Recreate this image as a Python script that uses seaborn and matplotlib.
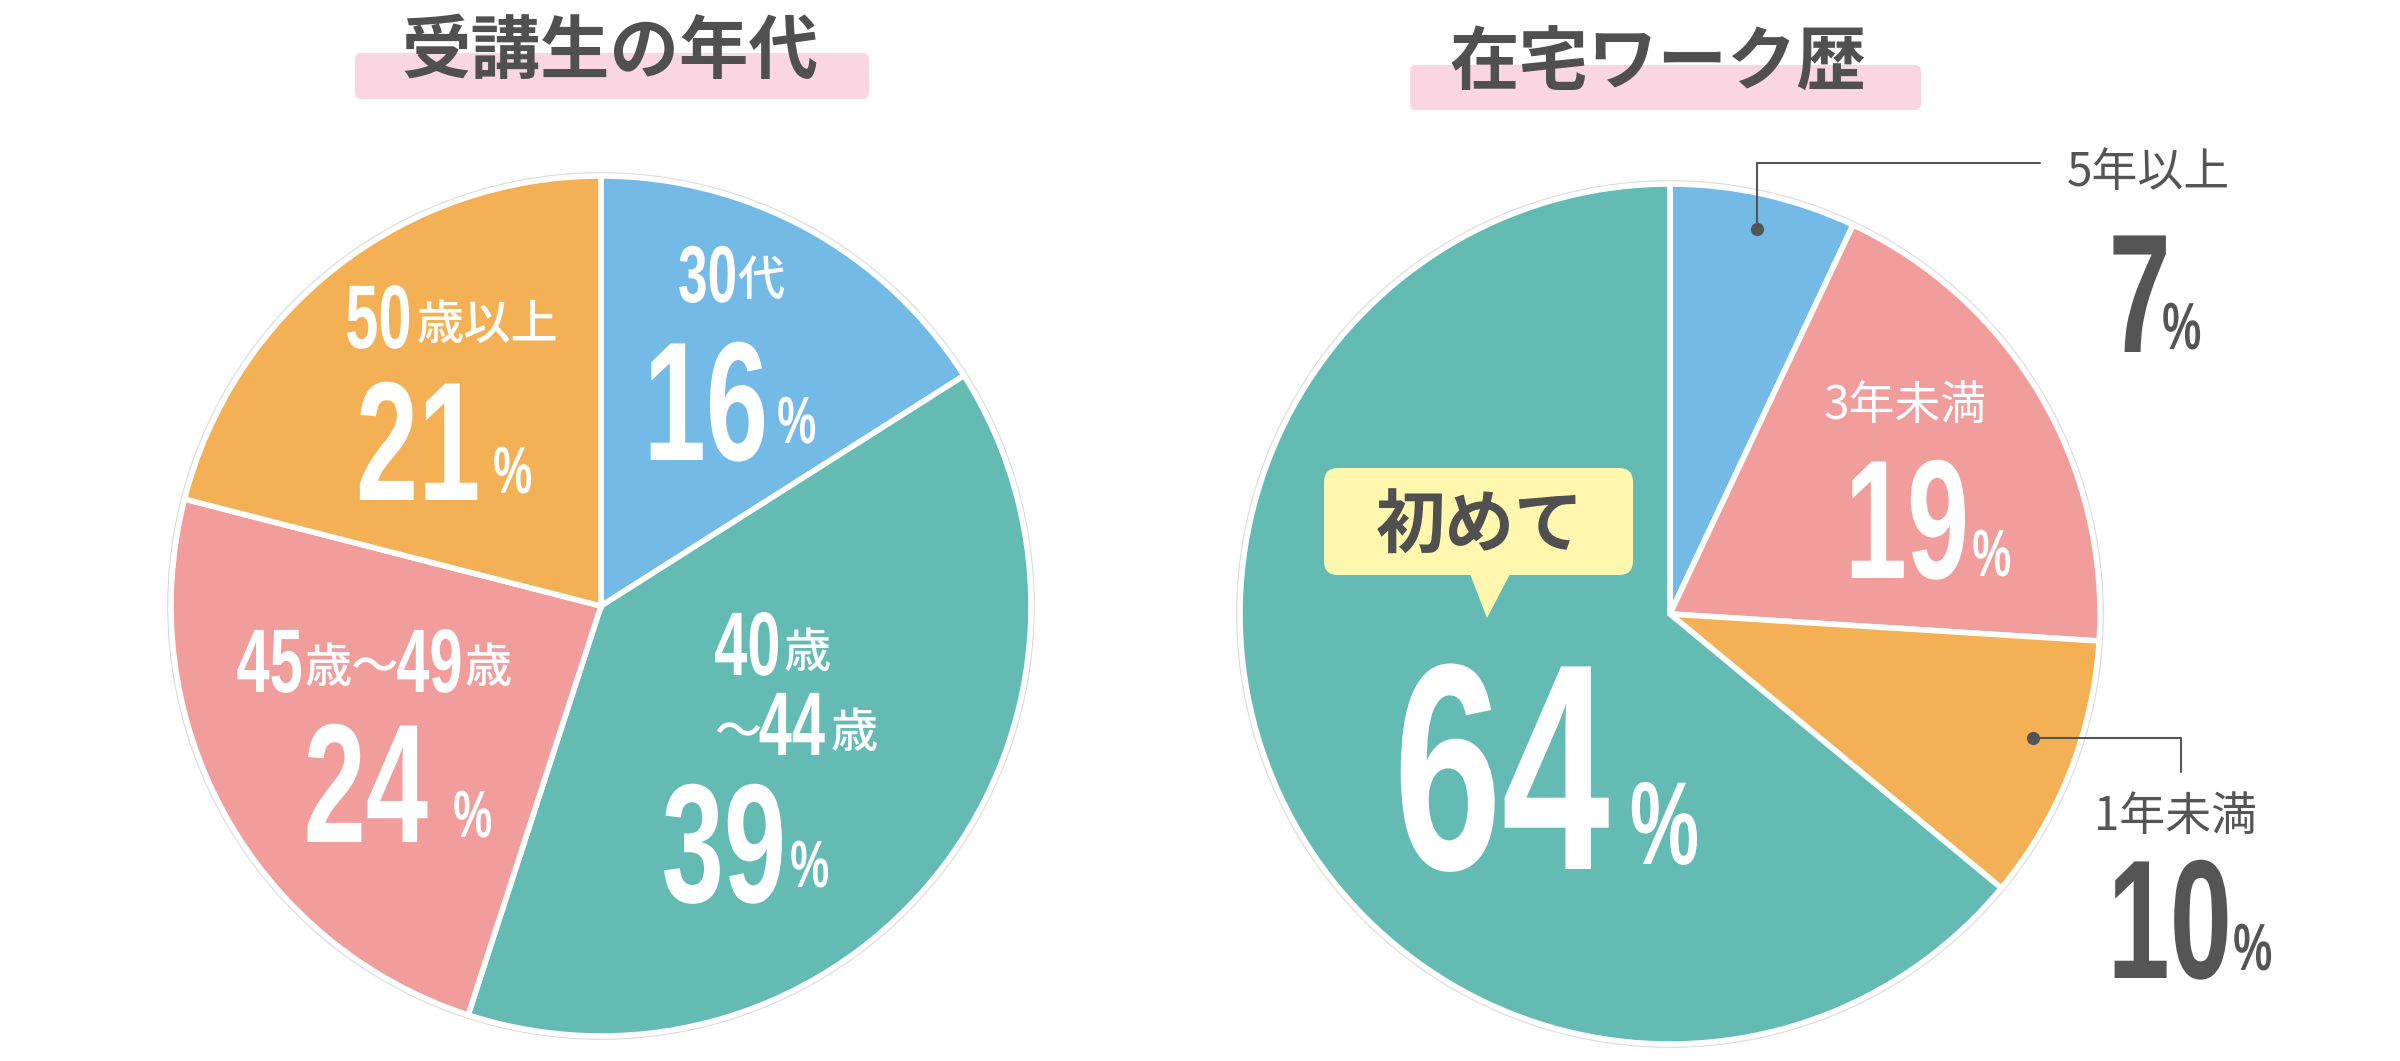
import numpy as np
import pandas as pd
import matplotlib
matplotlib.use("Agg")
import matplotlib.pyplot as plt
import seaborn as sns
from matplotlib import font_manager as fm
from matplotlib.text import Text
from matplotlib.patches import FancyBboxPatch, Polygon, Circle
from matplotlib.patheffects import AbstractPathEffect
from matplotlib.transforms import Affine2D, Bbox

# chart data
age_title = "受講生の年代"
age_labels = ["30代", "40歳～44歳", "45歳～49歳", "50歳以上"]
age_values = [16, 39, 24, 21]
age_colors = ["#74BAE6", "#63BBB4", "#F09D9B", "#F4B055"]

career_title = "在宅ワーク歴"
career_labels = ["5年以上", "3年未満", "1年未満", "初めて"]
career_values = [7, 19, 10, 64]
career_colors = ["#74BAE6", "#F09D9B", "#F4B055", "#63BBB4"]

W, H = 2400, 1061
GRAY = "#555555"
WH = "white"

sns.set_theme(style="white")
plt.rcParams["font.family"] = ["Noto Sans CJK JP", "DejaVu Sans"]


class Squeeze(AbstractPathEffect):
    # narrows the glyphs around their own centre (condensed look for the numbers)
    def __init__(self, sx):
        super().__init__()
        self.sx = sx

    def draw_path(self, renderer, gc, tpath, affine, rgbFace=None):
        v = tpath.vertices
        c = (v[:, 0].min() + v[:, 0].max()) / 2 if len(v) else 0
        t = Affine2D().translate(-c, 0).scale(self.sx, 1).translate(c, 0)
        renderer.draw_path(gc, tpath, t + affine, rgbFace)


class NarrowText(Text):
    # text drawn condensed; its extent is narrowed the same way
    sx = 1.0

    def get_window_extent(self, renderer=None, dpi=None):
        bb = super().get_window_extent(renderer, dpi)
        cx = (bb.x0 + bb.x1) / 2
        hw = bb.width * self.sx / 2
        return Bbox.from_extents(cx - hw, bb.y0, cx + hw, bb.y1)


try:
    num_fp = fm.FontProperties(family="Liberation Sans Narrow", weight="bold")
    fm.findfont(num_fp, fallback_to_default=False)
    SX = 0.80
except Exception:
    num_fp = fm.FontProperties(family="Liberation Sans", weight="bold")
    SX = 0.66

jp_bold = fm.FontProperties(family="Noto Sans CJK JP", weight="bold")
jp_med = fm.FontProperties(family="Noto Sans CJK JP", weight="medium")
jp_reg = fm.FontProperties(family="Noto Sans CJK JP", weight="regular")

fig = plt.figure(figsize=(24, 10.61), dpi=100)
ax = fig.add_axes([0, 0, 1, 1])


def put(x, y, s, size, color, fp, z=6):
    p = fp.copy()
    p.set_size(size)
    if fp is num_fp:
        t = NarrowText(x, H - y, s, color=color, fontproperties=p,
                       horizontalalignment="center", verticalalignment="baseline")
        t.sx = SX
        t.set_path_effects([Squeeze(SX)])
        t.set_zorder(z)
        ax.add_artist(t)
        return t
    return ax.text(x, H - y, s, fontproperties=p, color=color,
                   ha="center", va="baseline", zorder=z)


def title(cx, x0, x1, y0, y1, base, s):
    band = FancyBboxPatch((x0, H - y1), x1 - x0, y1 - y0,
                          boxstyle="round,pad=0,rounding_size=6",
                          fc="#F9D6E1", ec="none", zorder=1)
    ax.add_patch(band)
    put(cx, base, s, 50, "#505050", jp_bold, z=3)


# pies
for vals, cols, (cx, cy) in [(age_values, age_colors, (601, 606)),
                             (career_values, career_colors, (1670, 614))]:
    ax.pie(vals, colors=cols, startangle=90, counterclock=False,
           center=(cx, H - cy), radius=430, frame=True,
           wedgeprops=dict(edgecolor="white", linewidth=4))
    ax.add_patch(Circle((cx, H - cy), 433, fill=False, ec="#d9d9d9", lw=1.2, zorder=0))

# titles
title(610, 355, 869, 53, 99, 73, age_title)
title(1658, 1410, 1921, 65, 110, 85, career_title)

# 30代 16%
put(708, 302, "30", 58, WH, num_fp)
put(761, 295, "代", 34, WH, jp_med)
put(707, 460, str(age_values[0]), 122, WH, num_fp)
put(797, 443, "%", 48, WH, num_fp)
# 40歳～44歳 39%
put(748, 675, "40", 65, WH, num_fp)
put(807, 667, "歳", 34, WH, jp_med)
put(738, 747, "～", 34, WH, jp_med)
put(792, 755, "44", 65, WH, num_fp)
put(854, 747, "歳", 34, WH, jp_med)
put(725, 902, str(age_values[1]), 122, WH, num_fp)
put(810, 887, "%", 48, WH, num_fp)
# 45歳～49歳 24%
put(270, 692, "45", 65, WH, num_fp)
put(352, 682, "歳～", 34, WH, jp_med)
put(430, 692, "49", 65, WH, num_fp)
put(488, 682, "歳", 34, WH, jp_med)
put(366, 842, str(age_values[2]), 122, WH, num_fp)
put(473, 837, "%", 48, WH, num_fp)
# 50歳以上 21%
put(379, 348, "50", 65, WH, num_fp)
put(487, 339, "歳以上", 34, WH, jp_med)
put(419, 500, str(age_values[3]), 122, WH, num_fp)
put(513, 493, "%", 48, WH, num_fp)

# 在宅ワーク歴: leader lines
ax.plot([1757, 1757, 2040], [H - 229, H - 163, H - 163], color=GRAY, lw=1.5, zorder=5)
ax.plot([1757], [H - 229], "o", color=GRAY, ms=8.5, zorder=5)
ax.plot([2033, 2181, 2181], [H - 738, H - 738, H - 772], color=GRAY, lw=1.5, zorder=5)
ax.plot([2033], [H - 738], "o", color=GRAY, ms=8.5, zorder=5)

put(2148, 186, career_labels[0], 33, GRAY, jp_reg)
put(2141, 352, str(career_values[0]), 122, GRAY, num_fp)
put(2182, 349, "%", 48, GRAY, num_fp)

put(1905, 419, career_labels[1], 33, WH, jp_reg)
put(1908, 578, str(career_values[1]), 122, WH, num_fp)
put(1992, 576, "%", 48, WH, num_fp)

put(2175, 830, career_labels[2], 33, GRAY, jp_reg)
put(2171, 978, str(career_values[2]), 122, GRAY, num_fp)
put(2253, 970, "%", 48, GRAY, num_fp)

# 初めて bubble
bub = FancyBboxPatch((1324, H - 575), 309, 107, boxstyle="round,pad=0,rounding_size=14",
                     fc="#FFF7AE", ec="none", zorder=4)
ax.add_patch(bub)
ax.add_patch(Polygon([(1470, H - 574), (1510, H - 574), (1487, H - 618)],
                     closed=True, fc="#FFF7AE", ec="none", zorder=4))
put(1480, 548, career_labels[3], 50, "#505050", jp_bold)
put(1502, 869, str(career_values[3]), 212, WH, num_fp)
put(1665, 864, "%", 85, WH, num_fp)

ax.set_xlim(0, W)
ax.set_ylim(0, H)
ax.set_aspect("auto")
ax.axis("off")

fig.savefig("out.png", dpi=100, facecolor="white")
